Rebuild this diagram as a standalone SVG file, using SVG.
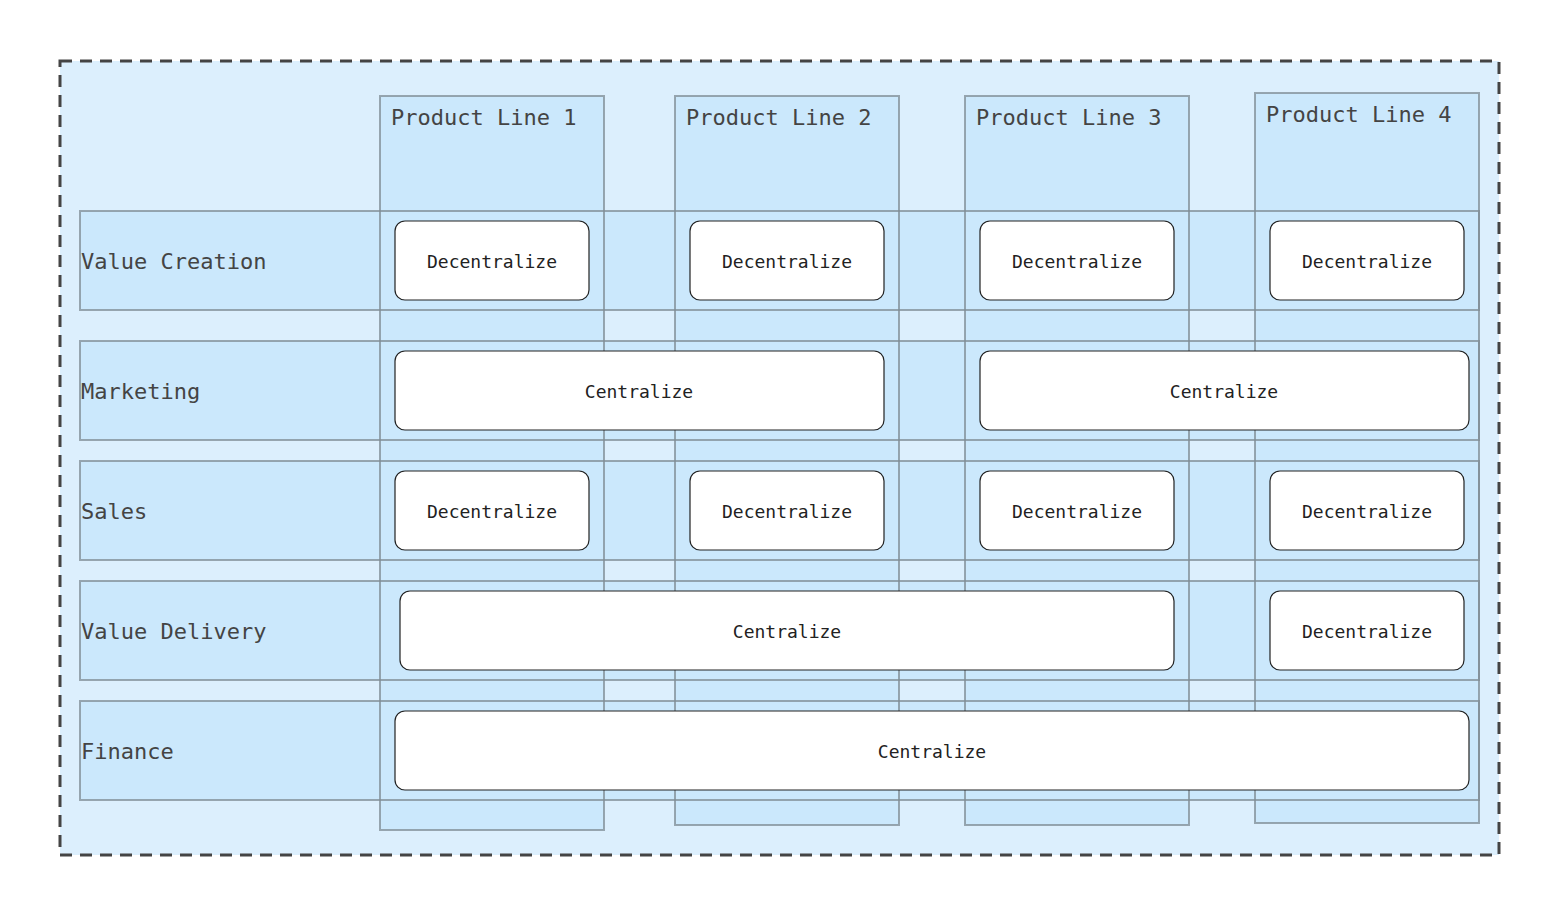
<svg xmlns="http://www.w3.org/2000/svg" width="1560" height="915" viewBox="0 0 1560 915">
<style>
.f{fill:#cbe8fc}
.s{fill:none;stroke:#7f8c94;stroke-opacity:.75;stroke-width:2}
.h{font-family:"DejaVu Sans Mono","Liberation Mono",monospace;font-size:22px;fill:#444}
.b{fill:#fff;stroke:#222;stroke-width:1.2}
.t{font-family:"DejaVu Sans Mono","Liberation Mono",monospace;font-size:18px;fill:#222;text-anchor:middle;dominant-baseline:central}
</style>
<rect width="1560" height="915" fill="#fff"/>
<rect x="60" y="61" width="1439" height="794" fill="#dceffd" stroke="#444" stroke-width="3" stroke-dasharray="12,8"/>
<g id="fills">
<rect class="f" x="380" y="96" width="224" height="734"/>
<rect class="f" x="675" y="96" width="224" height="729"/>
<rect class="f" x="965" y="96" width="224" height="729"/>
<rect class="f" x="1255" y="93" width="224" height="730"/>
<rect class="f" x="80" y="211" width="1399" height="99"/>
<rect class="f" x="80" y="341" width="1399" height="99"/>
<rect class="f" x="80" y="461" width="1399" height="99"/>
<rect class="f" x="80" y="581" width="1399" height="99"/>
<rect class="f" x="80" y="701" width="1399" height="99"/>
</g>
<g id="columns">
<rect class="s" x="380" y="96" width="224" height="734"/>
<rect class="s" x="675" y="96" width="224" height="729"/>
<rect class="s" x="965" y="96" width="224" height="729"/>
<rect class="s" x="1255" y="93" width="224" height="730"/>
<text class="h" x="391" y="125">Product Line 1</text>
<text class="h" x="686" y="125">Product Line 2</text>
<text class="h" x="976" y="125">Product Line 3</text>
<text class="h" x="1266" y="122">Product Line 4</text>
</g>
<g id="rows">
<rect class="s" x="80" y="211" width="1399" height="99"/>
<rect class="s" x="80" y="341" width="1399" height="99"/>
<rect class="s" x="80" y="461" width="1399" height="99"/>
<rect class="s" x="80" y="581" width="1399" height="99"/>
<rect class="s" x="80" y="701" width="1399" height="99"/>
<text class="h" x="81" y="269">Value Creation</text>
<text class="h" x="81" y="399">Marketing</text>
<text class="h" x="81" y="519">Sales</text>
<text class="h" x="81" y="639">Value Delivery</text>
<text class="h" x="81" y="759">Finance</text>
</g>
<g id="n1"><rect class="b" x="395" y="221" width="194" height="79" rx="10"/><text class="t" x="492" y="261">Decentralize</text></g>
<g id="n2"><rect class="b" x="690" y="221" width="194" height="79" rx="10"/><text class="t" x="787" y="261">Decentralize</text></g>
<g id="n3"><rect class="b" x="980" y="221" width="194" height="79" rx="10"/><text class="t" x="1077" y="261">Decentralize</text></g>
<g id="n4"><rect class="b" x="1270" y="221" width="194" height="79" rx="10"/><text class="t" x="1367" y="261">Decentralize</text></g>
<g id="n5"><rect class="b" x="395" y="351" width="489" height="79" rx="10"/><text class="t" x="639" y="391">Centralize</text></g>
<g id="n6"><rect class="b" x="980" y="351" width="489" height="79" rx="10"/><text class="t" x="1224" y="391">Centralize</text></g>
<g id="n7"><rect class="b" x="395" y="471" width="194" height="79" rx="10"/><text class="t" x="492" y="511">Decentralize</text></g>
<g id="n8"><rect class="b" x="690" y="471" width="194" height="79" rx="10"/><text class="t" x="787" y="511">Decentralize</text></g>
<g id="n9"><rect class="b" x="980" y="471" width="194" height="79" rx="10"/><text class="t" x="1077" y="511">Decentralize</text></g>
<g id="n10"><rect class="b" x="1270" y="471" width="194" height="79" rx="10"/><text class="t" x="1367" y="511">Decentralize</text></g>
<g id="n11"><rect class="b" x="400" y="591" width="774" height="79" rx="10"/><text class="t" x="787" y="631">Centralize</text></g>
<g id="n12"><rect class="b" x="1270" y="591" width="194" height="79" rx="10"/><text class="t" x="1367" y="631">Decentralize</text></g>
<g id="n13"><rect class="b" x="395" y="711" width="1074" height="79" rx="10"/><text class="t" x="932" y="751">Centralize</text></g>
<g id="connectors"/>
</svg>
